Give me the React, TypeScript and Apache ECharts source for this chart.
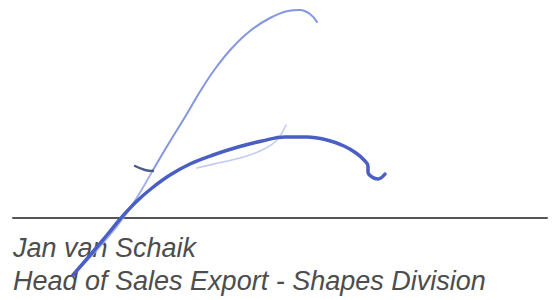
import React, { useEffect, useRef } from "react";
import * as echarts from "echarts";

// Signature strokes, in picture coordinates [x, y]
const upStrokeBottom: number[][] = [
  [73, 275], [97, 250], [118, 225], [136, 199], [153, 170],
];
const upStrokeTop: number[][] = [
  [153, 170], [169, 143], [185, 117], [201, 90], [215, 69], [232, 48], [250, 31], [270, 18], [288, 11], [300, 10], [310, 14], [317, 22],
];
const mainStroke: number[][] = [
  [73, 275], [91, 254], [107, 235], [121, 218], [136, 202], [152, 188], [170, 175], [190, 164], [213, 155], [238, 147], [262, 141], [285, 137], [307, 137], [327, 140], [344, 146], [356, 153], [364, 160], [368, 166], [368, 172], [372, 177], [378, 179], [385, 174],
];
const faintStroke: number[][] = [
  [197, 168], [218, 163], [240, 158], [260, 151], [276, 141], [286, 125],
];
const tickStroke: number[][] = [
  [135, 166], [145, 170], [153, 171],
];
const ruleLine: number[][] = [
  [13, 218], [547, 218],
];
const nameLines: string[] = ["Jan van Schaik", "Head of Sales Export - Shapes Division"];

export default function App() {
  const ref = useRef<HTMLDivElement>(null);
  useEffect(() => {
    document.body.style.margin = "0";
    const chart = echarts.init(ref.current!, null, { renderer: "svg" });
    const line = (data: number[][], color: string, width: number, opacity = 1, smooth = 0.4) => ({
      type: "line",
      data,
      smooth,
      showSymbol: false,
      silent: true,
      lineStyle: { color, width, opacity, cap: "round", join: "round" },
    });
    chart.setOption({
      animation: false,
      backgroundColor: "#ffffff",
      grid: { left: 0, right: 0, top: 0, bottom: 0 },
      xAxis: { type: "value", min: 0, max: 557, show: false },
      yAxis: { type: "value", min: 0, max: 300, inverse: true, show: false },
      series: [
        line(ruleLine, "#555555", 2, 1, 0),
        line(upStrokeBottom, "#95a6ec", 1.8, 0.9),
        line(upStrokeTop, "#6d84dd", 2, 0.85),
        line(faintStroke, "#b0bdf0", 1.6, 0.8),
        line(tickStroke, "#4b5c8f", 2.5),
        line(mainStroke, "#4a5fc4", 3.5),
      ],
      graphic: [
        {
          type: "text",
          left: 13,
          top: 234,
          style: {
            text: nameLines[0],
            fill: "#4d4d4d",
            font: "italic 27px 'Liberation Sans', Arial, sans-serif",
          },
          z: 0,
        },
        {
          type: "text",
          left: 13,
          top: 267,
          style: {
            text: nameLines[1],
            fill: "#4d4d4d",
            font: "italic 27px 'Liberation Sans', Arial, sans-serif",
          },
          z: 0,
        },
      ],
    });
    return () => chart.dispose();
  }, []);
  return <div ref={ref} style={{ width: 557, height: 300 }} />;
}
